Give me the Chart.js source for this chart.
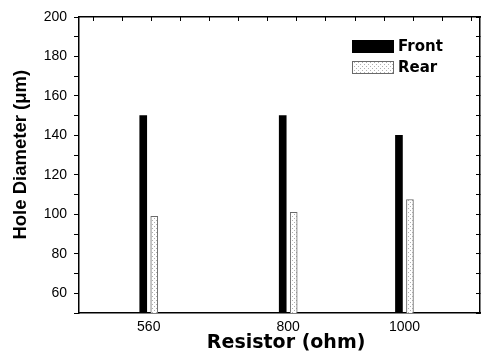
<!DOCTYPE html>
<html>
<head>
<meta charset="utf-8">
<script src="https://cdn.jsdelivr.net/npm/chart.js@4.4.1/dist/chart.umd.min.js"></script>
<style>
  html, body { margin: 0; padding: 0; background: #fff; }
  #wrap { width: 481px; height: 364px; position: relative; }
</style>
</head>
<body>
<div id="wrap"><canvas id="c" width="481" height="364"></canvas></div>
<script>
// ---- data ----
const resistors = [560, 800, 1000];
const frontDiameter = [150, 150, 140];
const rearDiameter = [99, 101, 107.5];
const seriesLabels = ['Front', 'Rear'];
const xTickValues = [560, 800, 1000];
const xTopTicks = [490, 540, 590, 640, 690, 740, 790, 840, 890, 940, 990, 1040, 1090];
const yMajorTicks = [60, 80, 100, 120, 140, 160, 180, 200];
const yMinorTicks = [50, 70, 90, 110, 130, 150, 170, 190];

// ---- dotted pattern for Rear ----
function makePattern() {
  const p = document.createElement('canvas');
  p.width = 4; p.height = 4;
  const g = p.getContext('2d');
  g.fillStyle = '#ffffff'; g.fillRect(0, 0, 4, 4);
  g.fillStyle = '#b0b0b0';
  g.fillRect(0, 0, 1, 1);
  g.fillRect(2, 2, 1, 1);
  return g.createPattern(p, 'repeat');
}
const rearPattern = makePattern();

const legendPlugin = {
  id: 'insideLegend',
  afterDraw(chart) {
    const ctx = chart.ctx;
    const a = chart.chartArea;
    const x0 = a.right - 128;
    const ys = [a.top + 23, a.top + 44];
    ctx.save();
    chart.data.datasets.forEach((ds, i) => {
      const y = ys[i];
      ctx.fillStyle = ds.backgroundColor;
      ctx.fillRect(x0, y, 42, 13);
      if (ds.borderWidth) {
        ctx.strokeStyle = ds.borderColor;
        ctx.lineWidth = 1;
        ctx.strokeRect(x0 + 0.5, y + 0.5, 41, 12);
      }
      ctx.fillStyle = '#000';
      ctx.font = 'bold 15px "DejaVu Sans"';
      ctx.textBaseline = 'middle';
      ctx.textAlign = 'left';
      ctx.fillText(ds.label, x0 + 46, y + 7);
    });
    ctx.restore();
  }
};

const ticksFromValues = (vals) => vals.map(v => ({ value: v }));
const allYTicks = yMajorTicks.concat(yMinorTicks).sort((a, b) => a - b);

new Chart(document.getElementById('c'), {
  type: 'bar',
  data: {
    datasets: [
      {
        label: seriesLabels[0],
        data: resistors.map((r, i) => ({ x: r, y: frontDiameter[i] })),
        backgroundColor: '#000000',
        borderWidth: 0
      },
      {
        label: seriesLabels[1],
        data: resistors.map((r, i) => ({ x: r, y: rearDiameter[i] })),
        backgroundColor: rearPattern,
        borderColor: '#6a6a6a',
        borderWidth: 1
      }
    ]
  },
  options: {
    responsive: false,
    animation: false,
    barThickness: 11,
    maxBarThickness: 7,
    layout: { padding: { top: 17, right: 0, left: 0, bottom: 0 } },
    plugins: {
      legend: { display: false },
      tooltip: { enabled: false }
    },
    scales: {
      x: {
        type: 'linear',
        position: 'bottom',
        min: 440, max: 1130,
        offset: false,
        afterBuildTicks: (s) => { s.ticks = ticksFromValues(xTickValues); },
        afterFit: (s) => { s.height = 51; },
        grid: { drawOnChartArea: false, drawTicks: false },
        border: { display: true, color: '#000', width: 1.5 },
        ticks: {
          autoSkip: false, maxRotation: 0, padding: 6, color: '#000',
          font: { family: '"Liberation Sans", Arial, sans-serif', size: 14 },
          callback: (v) => String(v)
        },
        title: {
          display: true, text: '  Resistor (ohm)', color: '#000',
          font: { family: '"DejaVu Sans", sans-serif', size: 19, weight: 'bold' },
          padding: { top: 10, bottom: 10 }
        }
      },
      xTop: {
        type: 'linear',
        position: 'top',
        min: 440, max: 1130,
        offset: false,
        afterBuildTicks: (s) => { s.ticks = ticksFromValues(xTopTicks); },
        afterFit: (s) => { s.height = 0; },
        grid: { drawOnChartArea: false, drawTicks: true, tickLength: -4, color: '#000', tickWidth: 1 },
        border: { display: true, color: '#000', width: 1.5 },
        ticks: { display: false }
      },
      y: {
        type: 'linear',
        position: 'left',
        min: 50, max: 200,
        afterBuildTicks: (s) => { s.ticks = ticksFromValues(allYTicks); },
        afterFit: (s) => { s.width = 79; },
        grid: { drawOnChartArea: false, drawTicks: true, tickLength: 5, color: '#000', tickWidth: 1 },
        border: { display: true, color: '#000', width: 1.5 },
        ticks: {
          autoSkip: false, padding: 7, color: '#000',
          font: { family: '"Liberation Sans", Arial, sans-serif', size: 14 },
          callback: (v) => (yMajorTicks.includes(v) ? String(v) : '')
        },
        title: {
          display: true, text: '    Hole Diameter (\u03bcm)', color: '#000',
          font: { family: '"Liberation Sans", Arial, sans-serif', size: 18.5, weight: 'bold' },
          padding: { top: 10, bottom: 4 }
        }
      },
      yRight: {
        type: 'linear',
        position: 'right',
        min: 50, max: 200,
        afterBuildTicks: (s) => { s.ticks = ticksFromValues(allYTicks); },
        afterFit: (s) => { s.width = 1; },
        grid: { drawOnChartArea: false, drawTicks: true, tickLength: -4, color: '#000', tickWidth: 1 },
        border: { display: true, color: '#000', width: 1.5 },
        ticks: { display: false }
      }
    }
  },
  plugins: [legendPlugin]
});
</script>
</body>
</html>
